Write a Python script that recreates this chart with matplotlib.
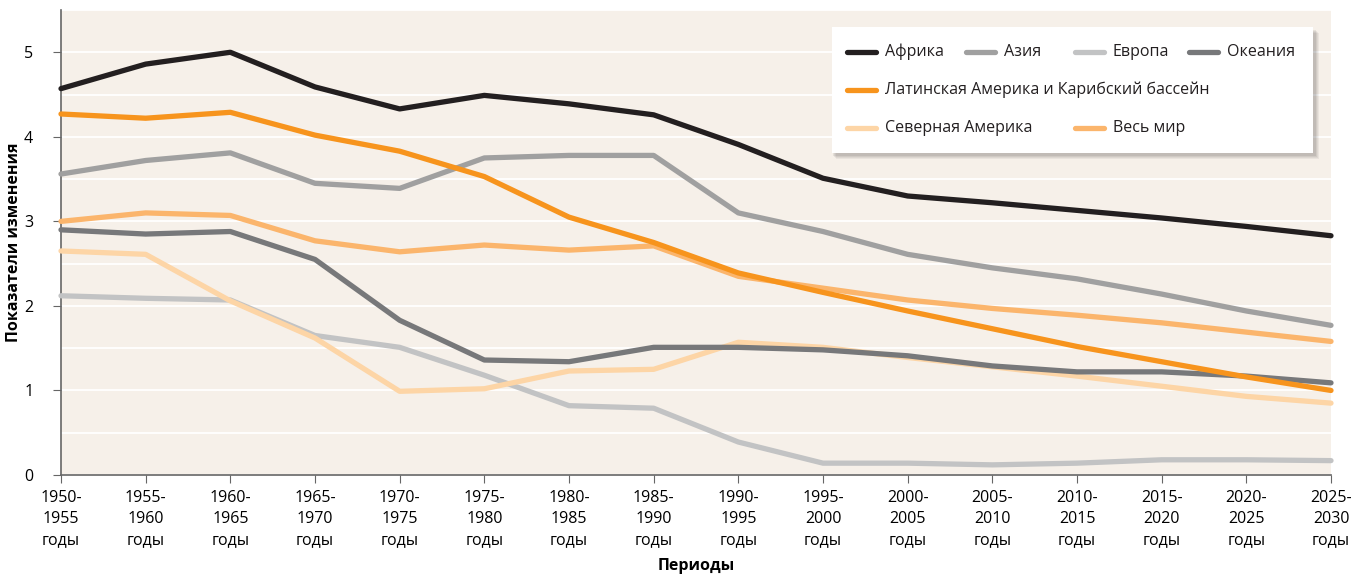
import matplotlib.pyplot as plt
from matplotlib.patches import Rectangle
from matplotlib.lines import Line2D

plt.rcParams['font.family'] = ['Open Sans', 'DejaVu Sans']

periods = ['1950-\n1955\nгоды', '1955-\n1960\nгоды', '1960-\n1965\nгоды', '1965-\n1970\nгоды',
           '1970-\n1975\nгоды', '1975-\n1980\nгоды', '1980-\n1985\nгоды', '1985-\n1990\nгоды',
           '1990-\n1995\nгоды', '1995-\n2000\nгоды', '2000-\n2005\nгоды', '2005-\n2010\nгоды',
           '2010-\n2015\nгоды', '2015-\n2020\nгоды', '2020-\n2025\nгоды', '2025-\n2030\nгоды']

africa = [4.57, 4.86, 5.00, 4.59, 4.33, 4.49, 4.39, 4.26, 3.91, 3.51, 3.30, 3.22, 3.13, 3.04, 2.94, 2.83]
asia = [3.56, 3.72, 3.81, 3.45, 3.39, 3.75, 3.78, 3.78, 3.10, 2.88, 2.61, 2.45, 2.32, 2.14, 1.94, 1.77]
europe = [2.12, 2.09, 2.07, 1.65, 1.51, 1.18, 0.82, 0.79, 0.39, 0.14, 0.14, 0.12, 0.14, 0.18, 0.18, 0.17]
oceania = [2.90, 2.85, 2.88, 2.55, 1.83, 1.36, 1.34, 1.51, 1.51, 1.48, 1.41, 1.29, 1.22, 1.22, 1.17, 1.09]
latam = [4.27, 4.22, 4.29, 4.02, 3.83, 3.53, 3.05, 2.75, 2.39, 2.16, 1.94, 1.73, 1.52, 1.34, 1.16, 1.00]
n_america = [2.65, 2.61, 2.06, 1.62, 0.99, 1.02, 1.23, 1.25, 1.57, 1.51, 1.39, 1.28, 1.17, 1.05, 0.93, 0.85]
world = [3.00, 3.10, 3.07, 2.77, 2.64, 2.72, 2.66, 2.71, 2.35, 2.21, 2.07, 1.97, 1.89, 1.80, 1.69, 1.58]

names = ['Африка', 'Азия', 'Европа', 'Океания',
         'Латинская Америка и Карибский бассейн', 'Северная Америка', 'Весь мир']
colors = ['#231f20', '#a0a0a0', '#c2c3c4', '#77787a', '#f7941d', '#fdd5a6', '#fbb56c']

fig = plt.figure(figsize=(13.51, 5.75), dpi=100)
ax = fig.add_axes([61 / 1351, 100 / 575, 1270 / 1351, 465 / 575])
ax.set_facecolor('#f6f0e9')

x = list(range(len(periods)))
series = [africa, asia, europe, oceania, latam, n_america, world]
order = [2, 5, 3, 1, 6, 4, 0]
for i in order:
    ax.plot(x, series[i], color=colors[i], lw=3.8, solid_joinstyle='round',
            solid_capstyle='round', clip_on=False, zorder=3)

ax.set_xlim(0, 15)
ax.set_ylim(0, 5.5)
ax.set_yticks([0, 1, 2, 3, 4, 5])
ax.set_yticks([0.5, 1.5, 2.5, 3.5, 4.5, 5.5], minor=True)
ax.grid(True, which='both', axis='y', color='white', lw=1.3, zorder=1)
ax.set_xticks(x)
ax.set_xticklabels(periods, fontsize=11.5, linespacing=1.4)
ax.tick_params(axis='both', which='major', color='#666666', length=6, labelsize=11.5, pad=5)
ax.tick_params(axis='y', which='minor', length=0)
ax.tick_params(axis='y', pad=14)
for s in ['top', 'right']:
    ax.spines[s].set_visible(False)
for s in ['left', 'bottom']:
    ax.spines[s].set_color('#666666')
    ax.spines[s].set_linewidth(1.2)

ax.set_xlabel('Периоды', fontsize=11.5, fontweight='bold')
ax.set_ylabel('Показатели изменения', fontsize=11.5, fontweight='bold')
ax.xaxis.set_label_coords(0.5, -0.178)
ax.yaxis.set_label_coords(-0.0307, 0.5)

# legend box with soft shadow
W, H = 1351, 575
bx0, by0, bx1, by1 = 832, 27, 1313, 153
for k, a in enumerate([0.05, 0.05, 0.06, 0.07]):
    off = 6 - k
    fig.patches.append(Rectangle(((bx0 + off - 2) / W, 1 - (by1 + off) / H),
                                 (bx1 - bx0 + 2) / W, (by1 - by0) / H,
                                 transform=fig.transFigure, facecolor='black',
                                 edgecolor='none', alpha=a, zorder=5))
fig.patches.append(Rectangle((bx0 / W, 1 - by1 / H), (bx1 - bx0) / W, (by1 - by0) / H,
                             transform=fig.transFigure, facecolor='white',
                             edgecolor='none', zorder=6))

entries = [(0, 847, 52), (1, 966, 52), (2, 1075, 52), (3, 1189, 52),
           (4, 847, 90), (5, 847, 128), (6, 1075, 128)]
for i, lx, ly in entries:
    fig.lines.append(Line2D([lx / W, (lx + 29) / W], [1 - ly / H, 1 - ly / H],
                            transform=fig.transFigure, color=colors[i], lw=3.8,
                            solid_capstyle='round', zorder=7))
    fig.text((lx + 38) / W, 1 - ly / H, names[i], fontsize=11.5, va='center',
             ha='left', color='#231f20', zorder=7)

fig.savefig('out.png', dpi=100, facecolor='white')
